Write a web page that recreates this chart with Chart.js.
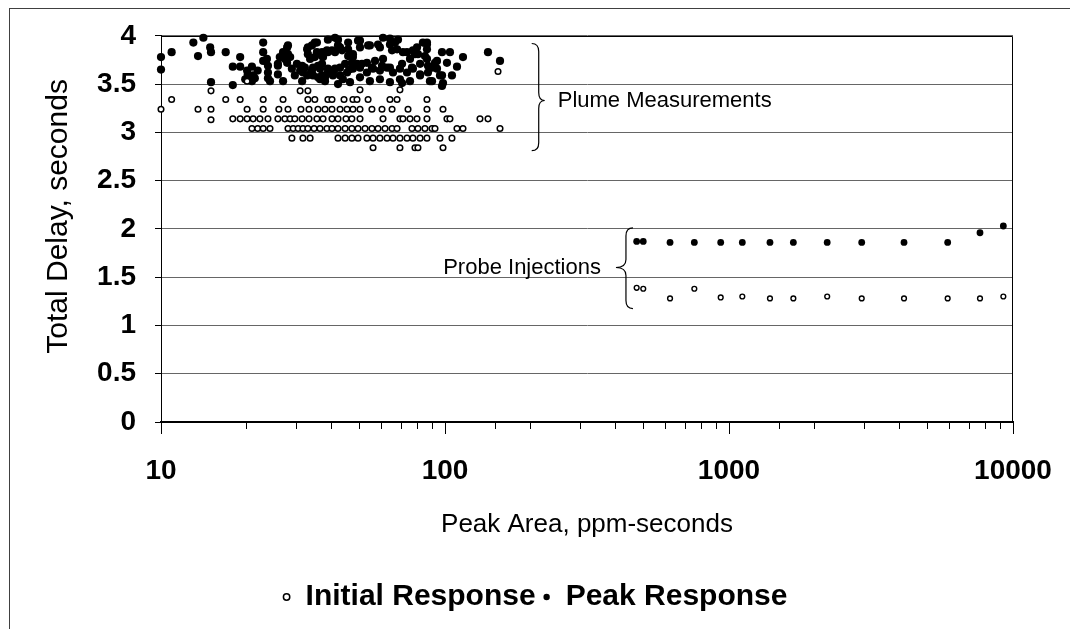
<!DOCTYPE html>
<html>
<head>
<meta charset="utf-8">
<script src="https://cdn.jsdelivr.net/npm/chart.js@4.4.1/dist/chart.umd.min.js"></script>
<style>
html,body{margin:0;padding:0;background:#fff;}
#wrap{width:1070px;height:629px;position:relative;}
</style>
</head>
<body>
<div id="wrap"><canvas id="c" width="1070" height="629"></canvas></div>
<script>
// ---------------- DATA ----------------
const seriesNames = ['Initial Response', 'Peak Response'];
const xAxisTitle = 'Peak Area, ppm-seconds';
const yAxisTitle = 'Total Delay, seconds';

// Plume measurements - initial response (open circles)
const plumeInitialX = [
  10.0,10.9,13.5,15.0,15.0,15.0,16.9,19.0,17.9,19.0,
  20.1,20.1,20.1,30.9,32.9,50.2,69.4,153.7,
  22.9,26.9,32.9,34.8,38.7,40.0,44.1,47.4,49.0,53.6,64.0,67.8,86.4,
  22.9,26.0,28.0,31.1,33.2,35.7,37.8,40.0,42.7,45.2,47.4,50.2,55.3,60.0,65.1,74.1,86.4,98.4,
  21.1,22.3,23.8,25.8,27.3,28.5,29.6,31.4,33.2,35.4,37.2,40.0,42.0,44.8,47.0,50.2,60.5,69.4,71.1,75.3,79.7,86.4,101.6,104.1,132.8,141.7,
  20.9,21.9,22.9,24.2,28.0,29.2,30.4,31.6,32.9,34.6,36.3,38.4,40.0,42.0,44.5,47.0,49.4,52.3,55.3,58.1,61.5,65.1,67.8,76.5,80.3,85.0,90.0,92.2,110.2,115.7,156.2,
  28.9,31.6,33.5,42.0,44.5,47.0,49.4,53.1,55.8,59.0,62.5,65.6,69.4,73.5,77.1,81.7,86.4,96.0,105.8,
  55.8,69.4,78.4,80.3,98.4
];
const plumeInitialY = [
  3.24,3.34,3.24,3.43,3.24,3.13,3.34,3.34,3.14,3.14,
  3.14,3.24,3.53,3.43,3.43,3.44,3.44,3.63,
  3.34,3.34,3.34,3.34,3.34,3.34,3.34,3.34,3.34,3.34,3.34,3.34,3.34,
  3.24,3.24,3.24,3.24,3.24,3.24,3.24,3.24,3.24,3.24,3.24,3.24,3.24,3.24,3.24,3.24,3.24,3.24,
  3.14,3.14,3.14,3.14,3.14,3.14,3.14,3.14,3.14,3.14,3.14,3.14,3.14,3.14,3.14,3.14,3.14,3.14,3.14,3.14,3.14,3.14,3.14,3.14,3.14,3.14,
  3.04,3.04,3.04,3.04,3.04,3.04,3.04,3.04,3.04,3.04,3.04,3.04,3.04,3.04,3.04,3.04,3.04,3.04,3.04,3.04,3.04,3.04,3.04,3.04,3.04,3.04,3.04,3.04,3.04,3.04,3.04,
  2.94,2.94,2.94,2.94,2.94,2.94,2.94,2.94,2.94,2.94,2.94,2.94,2.94,2.94,2.94,2.94,2.94,2.94,2.94,
  2.84,2.84,2.84,2.84,2.84
];

// Plume measurements - peak response (filled circles)
const plumePeakX = [
  10.0,10.0,10.9,13.0,14.1,13.5,14.9,15.0,16.9,19.0,
  17.9,19.0,20.1,15.0,17.9,20.9,21.1,21.4,22.9,22.9,
  22.9,23.8,23.8,21.9,25.8,26.2,26.9,28.0,28.5,27.8,
  28.9,29.6,31.4,31.6,31.4,32.9,32.9,33.5,34.8,34.0,
  34.3,35.7,36.9,38.7,41.0,38.7,42.0,36.9,38.7,41.0,
  42.7,45.2,37.8,42.0,43.4,45.6,47.0,44.5,32.7,35.4,
  37.2,40.0,42.7,45.6,50.2,54.4,59.0,64.0,68.3,67.8,
  65.1,71.1,77.1,86.4,86.4,80.3,97.6,104.1,75.3,86.4,
  93.7,101.6,115.7,141.7,156.2,47.4,49.0,53.1,56.7,60.5,
  34.3,36.3,39.4,42.7,46.0,47.4,50.2,53.1,55.8,59.0,
  62.5,65.6,69.4,73.5,77.1,81.7,87.1,93.7,32.7,36.3,
  40.3,43.7,46.3,50.2,54.4,59.0,64.0,69.4,75.3,81.7,
  88.5,96.0,105.8,70.6,98.4,86.4,92.2,90.0,110.2,97.6,
  90.0,97.6,23.6,20.2,23.8,24.2,25.8,27.3,27.8,28.0,
  25.8,26.9,30.1,30.9,32.1,33.5,34.0,35.4,34.8,36.9,
  38.4,41.0,36.9,38.7,40.3,35.7,37.8,19.8,20.9,42.0,
  45.6,47.4,49.4,50.2,53.6,58.1,60.5,64.0,66.7,73.5,
  78.4,79.7,83.6,85.0,70.6,76.5,81.7,87.1,51.0,55.3,
  60.0,64.0
];
const plumePeakY = [
  3.78,3.65,3.83,3.93,3.98,3.79,3.88,3.83,3.83,3.78,
  3.68,3.68,3.64,3.52,3.49,3.68,3.59,3.56,3.93,3.83,
  3.74,3.69,3.56,3.64,3.69,3.78,3.83,3.90,3.78,3.72,
  3.66,3.59,3.69,3.62,3.53,3.88,3.81,3.76,3.93,3.64,
  3.59,3.69,3.79,3.83,3.83,3.96,3.96,3.59,3.62,3.66,
  3.59,3.62,3.53,3.50,3.85,3.79,3.72,3.71,3.86,3.83,
  3.78,3.85,3.88,3.86,3.95,3.90,3.88,3.97,3.96,3.86,
  3.85,3.83,3.85,3.93,3.86,3.81,3.83,3.83,3.76,3.76,
  3.74,3.72,3.78,3.83,3.74,3.78,3.71,3.72,3.74,3.76,
  3.67,3.66,3.64,3.67,3.65,3.66,3.67,3.62,3.66,3.64,
  3.67,3.62,3.66,3.62,3.66,3.60,3.62,3.66,3.59,3.55,
  3.59,3.55,3.52,3.57,3.53,3.55,3.52,3.55,3.53,3.59,
  3.53,3.59,3.59,3.51,3.51,3.91,3.72,3.67,3.68,3.59,
  3.53,3.48,3.76,3.60,3.62,3.53,3.71,3.76,3.88,3.81,
  3.60,3.53,3.71,3.64,3.67,3.60,3.90,3.93,3.78,3.83,
  3.85,3.98,3.71,3.66,3.62,3.57,3.57,3.55,3.53,3.90,
  3.93,3.81,3.95,3.88,3.90,3.91,3.98,3.91,3.93,3.83,
  3.81,3.88,3.93,3.79,3.71,3.67,3.71,3.69,3.71,3.67,
  3.69,3.67
];

// Probe injections
const probeX = [473,499,620,755,935,1114,1394,1685,2217,2933,4133,5888,7652,9247];
const probeInitialY = [1.39,1.38,1.28,1.38,1.29,1.30,1.28,1.28,1.30,1.28,1.28,1.28,1.28,1.30];
const probePeakY    = [1.87,1.87,1.86,1.86,1.86,1.86,1.86,1.86,1.86,1.86,1.86,1.86,1.96,2.03];

// Axis ranges / ticks
const xMin = 10, xMax = 10000;
const yMin = 0, yMax = 4, yStep = 0.5;

// Annotation labels (braces), anchored in data coordinates
const braceNotes = [
  {text:'Plume Measurements', xEnd:202, yTop:3.92, yMid:3.33, yBot:2.81, dir:1,  spine:7, tip:13, gap:13},
  {text:'Probe Injections',   xEnd:459, yTop:2.01, yMid:1.60, yBot:1.175, dir:-1, spine:7, tip:17, gap:15}
];

// ---------------- CHART ----------------
const FONT = "'Liberation Sans', Arial, Helvetica, sans-serif";
Chart.defaults.font.family = FONT;
Chart.defaults.color = '#000';

const pts = (xs, ys) => xs.map((x, i) => ({x: x, y: ys[i]}));

const PLOT_BOTTOM = 422, PAD_BOTTOM = 7, PAD_SIDE = 57, PLOT_LEFT = 161;

const framePlugin = {
  id: 'frame',
  beforeDraw(chart) {
    const ctx = chart.ctx;
    ctx.save();
    ctx.fillStyle = '#fff';
    ctx.fillRect(0, 0, chart.width, chart.height);
    ctx.strokeStyle = '#404040';
    ctx.lineWidth = 1;
    ctx.strokeRect(9.5, 8.5, chart.width + 40, chart.height + 40);
    ctx.restore();
  },
  afterDraw(chart) {
    const ctx = chart.ctx, a = chart.chartArea, xs = chart.scales.x, ys = chart.scales.y;
    ctx.save();
    // plot border (top / right)
    ctx.strokeStyle = '#000';
    ctx.lineWidth = 1;
    ctx.beginPath();
    ctx.moveTo(Math.round(a.left) + 0.5, Math.round(a.top) + 0.5);
    ctx.lineTo(Math.round(a.right) - 0.5, Math.round(a.top) + 0.5);
    ctx.lineTo(Math.round(a.right) - 0.5, Math.round(a.bottom));
    ctx.stroke();
    // longer major ticks on the log axis
    xs.ticks.forEach(t => {
      const l = Math.log10(t.value);
      if (Math.abs(l - Math.round(l)) < 1e-6) {
        const px = Math.round(xs.getPixelForValue(t.value)) + 0.5;
        ctx.beginPath();
        ctx.moveTo(px, a.bottom);
        ctx.lineTo(px, a.bottom + 12);
        ctx.stroke();
      }
    });
    // braces + labels
    ctx.lineWidth = 1.2;
    ctx.strokeStyle = '#000';
    ctx.fillStyle = '#000';
    ctx.font = '22px ' + FONT;
    ctx.textBaseline = 'middle';
    braceNotes.forEach(n => {
      const xe = xs.getPixelForValue(n.xEnd);
      const y1 = ys.getPixelForValue(n.yTop);
      const ym = ys.getPixelForValue(n.yMid);
      const y2 = ys.getPixelForValue(n.yBot);
      const sp = xe + n.dir * n.spine, xt = xe + n.dir * n.tip, r = 8;
      ctx.beginPath();
      ctx.moveTo(xe, y1);
      ctx.quadraticCurveTo(sp, y1, sp, y1 + r);
      ctx.lineTo(sp, ym - r);
      ctx.quadraticCurveTo(sp, ym, xt, ym);
      ctx.quadraticCurveTo(sp, ym, sp, ym + r);
      ctx.lineTo(sp, y2 - r);
      ctx.quadraticCurveTo(sp, y2, xe, y2);
      ctx.stroke();
      ctx.textAlign = n.dir > 0 ? 'left' : 'right';
      ctx.fillText(n.text, xt + n.dir * n.gap, ym);
    });
    ctx.restore();
  }
};

new Chart(document.getElementById('c'), {
  type: 'scatter',
  data: {
    datasets: [
      {label: seriesNames[0], data: pts(plumeInitialX, plumeInitialY), pointStyle: 'circle',
       pointRadius: 2.8, pointHoverRadius: 2.8, backgroundColor: '#fff', borderColor: '#000', borderWidth: 1.5, clip: false},
      {label: seriesNames[1], data: pts(plumePeakX, plumePeakY), pointStyle: 'circle',
       pointRadius: 4.1, pointHoverRadius: 4.1, backgroundColor: '#000', borderColor: '#000', borderWidth: 0, clip: false},
      {label: seriesNames[0] + ' (probe)', data: pts(probeX, probeInitialY), pointStyle: 'circle',
       pointRadius: 2.4, pointHoverRadius: 2.4, backgroundColor: '#fff', borderColor: '#000', borderWidth: 1.4, clip: false},
      {label: seriesNames[1] + ' (probe)', data: pts(probeX, probePeakY), pointStyle: 'circle',
       pointRadius: 3.4, pointHoverRadius: 3.4, backgroundColor: '#000', borderColor: '#000', borderWidth: 0, clip: false}
    ]
  },
  options: {
    responsive: false,
    animation: false,
    events: [],
    layout: {padding: {left: PAD_SIDE, right: PAD_SIDE, top: 35, bottom: PAD_BOTTOM}},
    plugins: {
      tooltip: {enabled: false},
      legend: {
        position: 'bottom',
        labels: {
          filter: item => item.datasetIndex < 2,
          usePointStyle: true,
          boxWidth: 8,
          boxHeight: 4.5,
          padding: 7,
          color: '#000',
          font: {size: 30, weight: 'bold', family: FONT}
        }
      }
    },
    scales: {
      x: {
        type: 'logarithmic',
        min: xMin, max: xMax,
        afterFit: s => {
          const lh = s.chart.legend ? s.chart.legend.height : 0;
          s.height = s.chart.height - PAD_BOTTOM - lh - PLOT_BOTTOM;
          s.paddingLeft = 0;
          s.paddingRight = 0;
        },
        border: {display: true, color: '#000', width: 2},
        grid: {drawOnChartArea: false, drawTicks: true, tickLength: 7, tickColor: '#000', tickWidth: 1},
        ticks: {
          autoSkip: false, maxRotation: 0, minRotation: 0, padding: 25,
          color: '#000', font: {size: 28, weight: 'bold', family: FONT},
          callback: v => {
            const l = Math.log10(v);
            return Math.abs(l - Math.round(l)) < 1e-6 ? String(Math.round(v)) : '';
          }
        },
        title: {display: true, text: xAxisTitle, color: '#000',
                font: {size: 26, weight: 'normal', family: FONT}, padding: {top: 0, bottom: 35}}
      },
      y: {
        type: 'linear',
        min: yMin, max: yMax,
        afterFit: s => { s.width = PLOT_LEFT - PAD_SIDE; },
        border: {display: true, color: '#000', width: 1},
        grid: {color: '#666', lineWidth: 1, drawTicks: true, tickLength: 6, tickColor: '#000'},
        ticks: {
          stepSize: yStep, autoSkip: false, padding: 19, color: '#000',
          font: {size: 28, weight: 'bold', family: FONT},
          callback: v => String(+Number(v).toFixed(2))
        },
        title: {display: true, text: '\u00a0\u00a0\u00a0' + yAxisTitle, color: '#000',
                font: {size: 30, weight: 'normal', family: FONT}, padding: {top: -16, bottom: 0}}
      }
    }
  },
  plugins: [framePlugin]
});
</script>
</body>
</html>
